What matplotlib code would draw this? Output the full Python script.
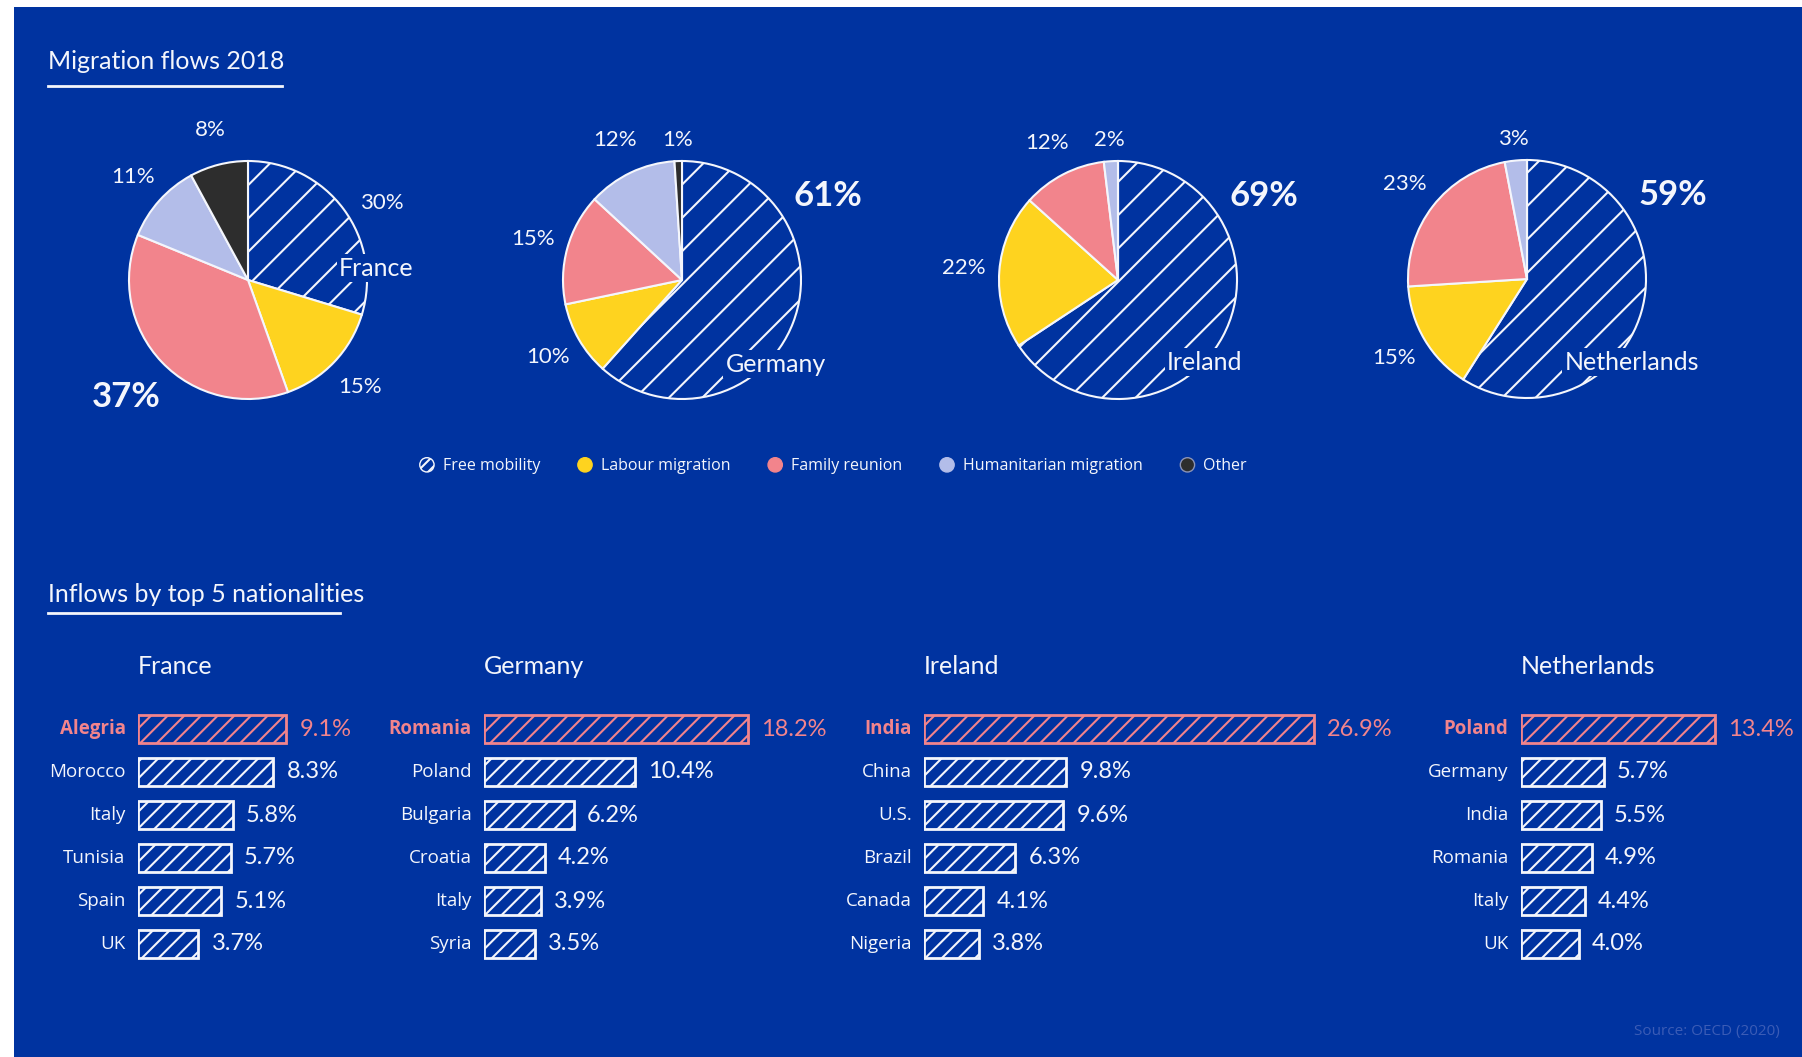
import numpy as np
import matplotlib
matplotlib.use("Agg")
import matplotlib.pyplot as plt
import matplotlib.patches as mpatches
from matplotlib.legend_handler import HandlerPatch
from matplotlib.lines import Line2D

# canvas size in pixels (dpi 100)
W, H = 1802, 1057

NAVY = "#0033a0"
WHITE = "#f4f6fc"
PINK = "#f2848c"
YELLOW = "#fed31f"
LAVENDER = "#b3bde9"
DARK = "#2d2d2d"
SOURCE_BLUE = "#3b5cb6"
HAND = "Lato"
SANS = "Open Sans"

# migration flows 2018, share of each channel (%)
pie_countries = ["France", "Germany", "Ireland", "Netherlands"]
free_mobility = [30, 61, 69, 59]
labour = [15, 10, 22, 15]
family = [37, 15, 12, 23]
humanitarian = [11, 12, 2, 3]
other = [8, 1, 0, 0]

categories = ["Free mobility", "Labour migration", "Family reunion",
              "Humanitarian migration", "Other"]

# inflows by top 5 nationalities (%)
france_names = ["Alegria", "Morocco", "Italy", "Tunisia", "Spain", "UK"]
france_vals = [9.1, 8.3, 5.8, 5.7, 5.1, 3.7]
germany_names = ["Romania", "Poland", "Bulgaria", "Croatia", "Italy", "Syria"]
germany_vals = [18.2, 10.4, 6.2, 4.2, 3.9, 3.5]
ireland_names = ["India", "China", "U.S.", "Brazil", "Canada", "Nigeria"]
ireland_vals = [26.9, 9.8, 9.6, 6.3, 4.1, 3.8]
netherlands_names = ["Poland", "Germany", "India", "Romania", "Italy", "UK"]
netherlands_vals = [13.4, 5.7, 5.5, 4.9, 4.4, 4.0]

plt.rcParams["hatch.linewidth"] = 1.5


def fx(x):
    return x / W


def fy(y):
    return 1 - y / H


fig = plt.figure(figsize=(W / 100, H / 100), dpi=100, facecolor="white")
fig.patches.append(mpatches.Rectangle((fx(14), 0), 1, fy(7), transform=fig.transFigure,
                                      facecolor=NAVY, edgecolor="none", zorder=-5))

hand = dict(family=HAND, color=WHITE)

# ---- section titles
fig.text(fx(48), fy(69), "Migration flows 2018", fontsize=18, va="baseline", **hand)
fig.add_artist(Line2D([fx(48), fx(282)], [fy(86), fy(86)], color=WHITE, lw=2,
                      transform=fig.transFigure))
fig.text(fx(48), fy(602), "Inflows by top 5 nationalities", fontsize=18, va="baseline", **hand)
fig.add_artist(Line2D([fx(48), fx(340)], [fy(613), fy(613)], color=WHITE, lw=2,
                      transform=fig.transFigure))

# ---- pies
pie_centres = [(248, 280), (682, 280), (1118, 280), (1527, 279)]
name_offsets = [(1.08, 0.10), (0.79, -0.71), (0.73, -0.69), (0.88, -0.70)]
R = 119
span = 1.6
pie_colors = [NAVY, YELLOW, PINK, LAVENDER, DARK]

for i, country in enumerate(pie_countries):
    cx, cy = pie_centres[i]
    size = 2 * span * R
    ax = fig.add_axes([fx(cx - span * R), fy(cy + span * R), size / W, size / H])
    vals = [free_mobility[i], labour[i], family[i], humanitarian[i], other[i]]
    wedges, _ = ax.pie(vals, colors=pie_colors, startangle=90, counterclock=False,
                       wedgeprops=dict(edgecolor=WHITE, linewidth=1.5))
    wedges[0].set_hatch("/")
    ax.set_xlim(-span, span)
    ax.set_ylim(-span, span)
    ax.set_aspect("equal")
    ax.axis("off")

    total = sum(vals)
    biggest = int(np.argmax(vals))
    start = 0
    for j, v in enumerate(vals):
        mid = (start + v / 2) / total * 360
        start += v
        if v == 0:
            continue
        if j == 0:
            mid = 60
        if j == biggest:
            r, fs, wt = 1.42, 25, "bold"
        else:
            r, fs, wt = (1.18 if v < 5 else 1.3), 16, "normal"
        a = np.radians(mid)
        ax.text(r * np.sin(a), r * np.cos(a), f"{v}%", ha="center", va="center",
                fontsize=fs, fontweight=wt, family=HAND, color=WHITE)

    ox, oy = name_offsets[i]
    ax.text(ox, oy, country, ha="center", va="center", fontsize=18, zorder=5,
            bbox=dict(boxstyle="square,pad=0.1", facecolor=NAVY, edgecolor="none"), **hand)


# ---- legend
def circle_patch(legend, orig_handle, xdescent, ydescent, width, height, fontsize):
    rad = 0.5 * min(width, height)
    return mpatches.Circle((width / 2 - xdescent, height / 2 - ydescent), rad)


handles = [
    mpatches.Circle((0, 0), 1, facecolor=NAVY, edgecolor=WHITE, hatch="///", lw=1),
    mpatches.Circle((0, 0), 1, facecolor=YELLOW, edgecolor=YELLOW),
    mpatches.Circle((0, 0), 1, facecolor=PINK, edgecolor=PINK),
    mpatches.Circle((0, 0), 1, facecolor=LAVENDER, edgecolor=LAVENDER),
    mpatches.Circle((0, 0), 1, facecolor=DARK, edgecolor="#8a93b8", lw=1),
]
fig.legend(handles, categories, loc="center", bbox_to_anchor=(fx(833), fy(466)), ncol=5,
           frameon=False, handler_map={mpatches.Circle: HandlerPatch(patch_func=circle_patch)},
           prop=dict(family=SANS, size=11.5), labelcolor=WHITE, handlelength=1.0,
           handleheight=1.0, handletextpad=0.5, columnspacing=2.3)

# ---- bar panels
bar_panels = [
    ("France", france_names, france_vals, 138, 16.3),
    ("Germany", germany_names, germany_vals, 484, 14.5),
    ("Ireland", ireland_names, ireland_vals, 924, 14.5),
    ("Netherlands", netherlands_names, netherlands_vals, 1521, 14.5),
]
row_top, row_pitch = 729, 43
n_rows = 6

for title, names, vals, x0, scale in bar_panels:
    width_px = 420
    top = row_top - row_pitch / 2
    ax = fig.add_axes([fx(x0), fy(top + n_rows * row_pitch), width_px / W,
                       n_rows * row_pitch / H])
    ax.set_xlim(0, width_px / scale)
    ax.set_ylim(n_rows - 0.5, -0.5)
    ax.axis("off")

    for k, (name, v) in enumerate(zip(names, vals)):
        c = PINK if k == 0 else WHITE
        ax.barh(k, v, height=0.63, facecolor="none", edgecolor=c, hatch="//", linewidth=2)
        ax.annotate(name, (0, k), xytext=(-9, 0), textcoords="offset points",
                    ha="right", va="center", family=SANS, fontsize=13.5, color=c,
                    fontweight="bold" if k == 0 else "normal")
        ax.annotate(f"{v:.1f}%", (v, k), xytext=(9.5, 0), textcoords="offset points",
                    ha="left", va="center", family=HAND, fontsize=17, color=c)

    fig.text(fx(x0), fy(667), title, fontsize=18, va="center", ha="left", **hand)

fig.text(fx(1780), fy(1032), "Source: OECD (2020)", ha="right", va="center",
         family=SANS, fontsize=11, color=SOURCE_BLUE)

fig.savefig("out.png", dpi=100, facecolor=fig.get_facecolor())
